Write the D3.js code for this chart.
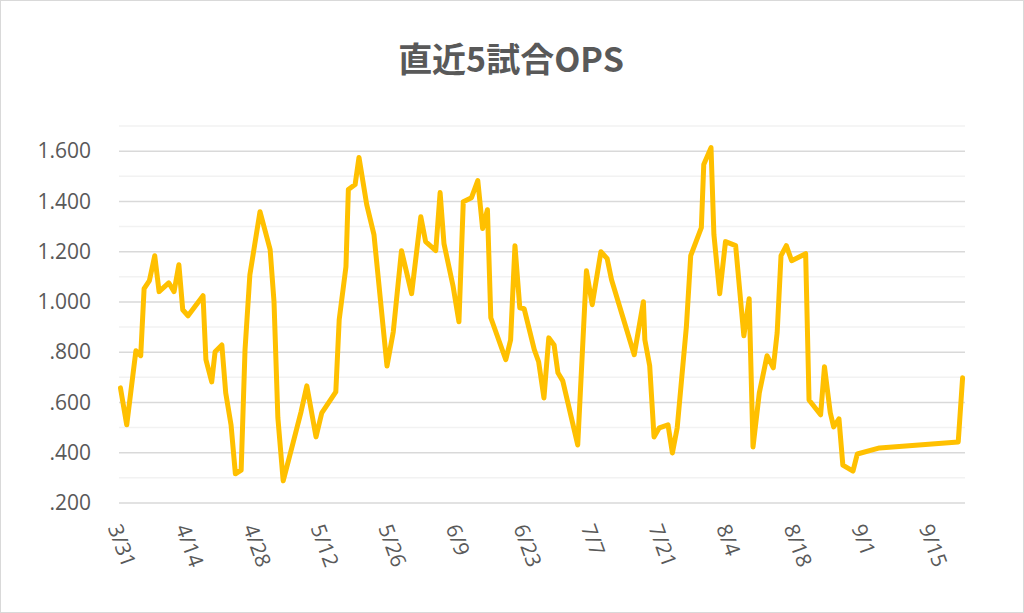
<!DOCTYPE html>
<html><head><meta charset="utf-8">
<script src="https://cdn.jsdelivr.net/npm/d3@7"></script>
<style>body{margin:0;background:#fff}svg{display:block}</style></head>
<body><svg id="c" width="1024" height="613"></svg>
<script>
const title = "直近5試合OPS";
const startDate = "2019-03-31";
const dayOffsets = [0.1,1.4,3.3,4.3,5.0,6.1,7.2,8.1,10.1,11.2,12.2,13.0,14.1,17.2,17.8,19.0,19.7,21.1,21.9,23.0,23.9,25.1,25.9,26.9,29.0,31.1,31.9,32.7,33.8,35.9,37.5,38.7,40.6,41.8,44.7,45.4,46.8,47.3,48.7,49.5,51.1,52.6,55.3,56.6,58.3,60.4,62.3,63.3,65.4,66.3,67.1,69.0,70.2,71.1,72.8,74.1,75.1,76.1,76.8,79.9,80.9,81.8,82.8,83.7,85.8,86.7,87.8,88.8,89.9,90.7,91.7,94.8,96.6,97.8,99.6,100.9,101.8,106.5,108.4,108.7,109.7,110.6,111.7,113.5,114.4,115.4,117.3,118.2,120.4,120.9,122.4,123.0,124.2,125.4,127.5,129.2,130.3,131.1,132.4,134.0,135.3,136.1,136.9,138.0,139.1,142.0,142.7,145.1,145.9,147.1,147.8,148.9,149.7,151.8,152.7,157.3,173.6,174.5];
const opsValues = [0.658,0.511,0.806,0.786,1.053,1.085,1.184,1.041,1.076,1.041,1.148,0.969,0.945,1.025,0.770,0.682,0.802,0.829,0.638,0.511,0.316,0.331,0.810,1.108,1.359,1.208,1.001,0.539,0.288,0.443,0.563,0.666,0.463,0.559,0.642,0.929,1.140,1.447,1.467,1.575,1.387,1.268,0.745,0.881,1.204,1.033,1.339,1.240,1.204,1.435,1.232,1.061,0.921,1.399,1.415,1.483,1.292,1.367,0.937,0.770,0.849,1.224,0.977,0.973,0.810,0.762,0.618,0.857,0.829,0.718,0.686,0.431,1.124,0.989,1.200,1.172,1.088,0.790,1.001,0.849,0.746,0.463,0.499,0.511,0.399,0.499,0.901,1.184,1.296,1.547,1.614,1.268,1.033,1.240,1.224,0.865,1.013,0.423,0.638,0.786,0.738,0.877,1.184,1.224,1.164,1.192,0.610,0.551,0.742,0.559,0.503,0.535,0.351,0.327,0.395,0.419,0.443,0.698];
const xTickLabels = ["3/31","4/14","4/28","5/12","5/26","6/9","6/23","7/7","7/21","8/4","8/18","9/1","9/15"];
const yTickValues = [0.2,0.4,0.6,0.8,1.0,1.2,1.4,1.6];
const yMinorValues = [0.3,0.5,0.7,0.9,1.1,1.3,1.5,1.7];

const svg = d3.select("#c");
const base = d3.isoParse(startDate);
const toDate = d => new Date(base.getTime() + d*86400000);
const parseLabel = s => { const [m,d] = s.split("/").map(Number); return new Date(base.getFullYear(), m-1, d); };

const L=119, R=965, T=126, B=503;
const x = d3.scaleTime().domain([toDate(-0.2), toDate(175)]).range([L,R]);
const y = d3.scaleLinear().domain([0.2,1.7]).range([B,T]);
const font = "'Open Sans', 'Liberation Sans', sans-serif";

svg.append("rect").attr("x",0.5).attr("y",0.5).attr("width",1023).attr("height",612).attr("fill","#fff").attr("stroke","#d9d9d9");

svg.append("g").selectAll("line").data(yMinorValues).join("line")
  .attr("x1",L).attr("x2",R).attr("y1",d=>y(d)).attr("y2",d=>y(d)).attr("stroke","#f2f2f2").attr("stroke-width",1.5);
svg.append("g").selectAll("line").data(yTickValues).join("line")
  .attr("x1",L).attr("x2",R).attr("y1",d=>y(d)).attr("y2",d=>y(d)).attr("stroke","#d9d9d9").attr("stroke-width",1.5);

const yAxis = d3.axisLeft(y).tickValues(yTickValues).tickSize(0).tickPadding(0)
  .tickFormat(d => d3.format(".3f")(d).replace(/^0/,""));
svg.append("g").attr("transform",`translate(${L-28},0)`).call(yAxis)
  .call(g=>g.select(".domain").remove())
  .selectAll("text").attr("fill","#595959").attr("font-family",font).attr("font-size",21);

const xAxis = d3.axisBottom(x).tickValues(xTickLabels.map(parseLabel)).tickSize(0).tickFormat(d3.timeFormat("%-m/%-d"));
svg.append("g").attr("transform",`translate(-6,${B+22})`).call(xAxis)
  .call(g=>g.select(".domain").remove())
  .selectAll("text").attr("fill","#595959").attr("font-family",font).attr("font-size",21)
  .attr("text-anchor","start").attr("dy","0.35em").attr("transform","rotate(70)").attr("y",0).attr("x",0);

const line = d3.line().x((d,i)=>x(toDate(dayOffsets[i]))).y(d=>y(d));
svg.append("path").datum(opsValues).attr("d",line).attr("fill","none").attr("stroke","#ffc000")
  .attr("stroke-width",5).attr("stroke-linejoin","round").attr("stroke-linecap","round");

svg.append("text").attr("x",511).attr("y",72).attr("text-anchor","middle").attr("fill","#595959")
  .attr("font-family","'Noto Sans CJK JP', sans-serif").attr("font-weight","bold").attr("font-size",34).text(title);
</script></body></html>
